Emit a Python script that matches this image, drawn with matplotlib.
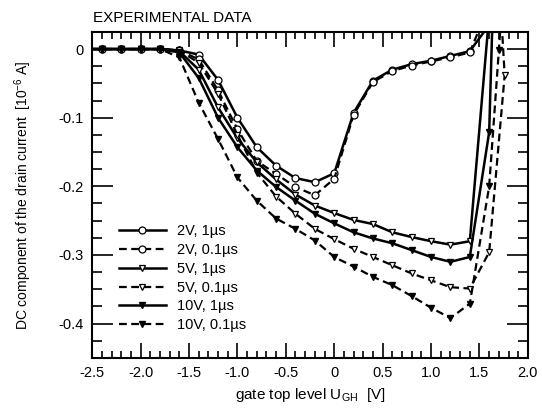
import matplotlib.pyplot as plt
from matplotlib.ticker import MultipleLocator

plt.rcParams['font.family'] = ['Liberation Sans', 'DejaVu Sans']

# gate top level U_GH [V]
x_base = [-2.5, -2.4, -2.2, -2.0, -1.8, -1.6, -1.4, -1.2, -1.0, -0.8, -0.6,
          -0.4, -0.2, 0.0, 0.2, 0.4, 0.6, 0.8, 1.0, 1.2, 1.4]

# DC component of the drain current [1e-6 A]
x_2v_1 = x_base + [1.6]
y_2v_1 = [0, 0, 0, 0, 0, -0.002, -0.008, -0.045, -0.100, -0.143, -0.170,
          -0.188, -0.194, -0.181, -0.093, -0.046, -0.030, -0.022, -0.017, -0.010, -0.003,
          0.035]

x_2v_01 = x_base + [1.5]
y_2v_01 = [0, 0, 0, 0, 0, -0.002, -0.015, -0.060, -0.117, -0.163, -0.182,
           -0.201, -0.213, -0.189, -0.096, -0.048, -0.032, -0.024, -0.018, -0.012, -0.005,
           0.030]

x_5v_1 = x_base + [1.6]
y_5v_1 = [0, 0, 0, 0, 0, -0.003, -0.030, -0.085, -0.130, -0.165, -0.190,
          -0.212, -0.228, -0.239, -0.249, -0.255, -0.267, -0.274, -0.280, -0.285, -0.280,
          0.050]

x_5v_01 = x_base + [1.6, 1.76, 1.72]
y_5v_01 = [0, 0, 0, 0, 0, -0.002, -0.020, -0.065, -0.125, -0.180, -0.215,
           -0.240, -0.262, -0.277, -0.291, -0.303, -0.315, -0.327, -0.337, -0.347, -0.349,
           -0.296, -0.038, 0.060]

x_10v_1 = x_base + [1.6, 1.7]
y_10v_1 = [0, 0, 0, 0, 0, -0.005, -0.042, -0.100, -0.143, -0.177, -0.201,
           -0.221, -0.240, -0.254, -0.267, -0.276, -0.283, -0.293, -0.303, -0.310, -0.303,
           -0.121, 0.360]

x_10v_01 = x_base + [1.6, 1.7, 1.75]
y_10v_01 = [0, 0, 0, 0, 0, -0.012, -0.078, -0.131, -0.187, -0.221, -0.247,
            -0.262, -0.279, -0.303, -0.317, -0.332, -0.344, -0.360, -0.377, -0.392, -0.371,
            -0.200, -0.002, 0.100]

labels = ['2V, 1\u00b5s', '2V, 0.1\u00b5s', '5V, 1\u00b5s',
          '5V, 0.1\u00b5s', '10V, 1\u00b5s', '10V, 0.1\u00b5s']

fig = plt.figure(figsize=(5.42, 4.09), dpi=100)
ax = fig.add_axes([0.170, 0.125, 0.804, 0.797])

solid = dict(color='black', linewidth=1.8, linestyle='-')
dashed = dict(color='black', linewidth=1.6, linestyle=(0, (3.5, 2)))
ms = 5
skip_first = slice(1, None)  # the first point only carries the line to the left spine

ax.plot(x_2v_1, y_2v_1, marker='o', ms=ms, mfc='white', mec='black', mew=0.9,
        markevery=skip_first, label=labels[0], **solid)
ax.plot(x_2v_01, y_2v_01, marker='o', ms=ms, mfc='white', mec='black', mew=0.9,
        markevery=skip_first, label=labels[1], **dashed)
ax.plot(x_5v_1, y_5v_1, marker='v', ms=ms, mfc='white', mec='black', mew=0.9,
        markevery=skip_first, label=labels[2], **solid)
ax.plot(x_5v_01, y_5v_01, marker='v', ms=ms, mfc='white', mec='black', mew=0.9,
        markevery=skip_first, label=labels[3], **dashed)
ax.plot(x_10v_1, y_10v_1, marker='v', ms=ms, mfc='black', mec='black',
        markevery=skip_first, label=labels[4], **solid)
ax.plot(x_10v_01, y_10v_01, marker='v', ms=ms, mfc='black', mec='black',
        markevery=skip_first, label=labels[5], **dashed)

ax.set_xlim(-2.5, 2.0)
ax.set_ylim(-0.45, 0.025)
ax.xaxis.set_minor_locator(MultipleLocator(0.1))
ax.yaxis.set_minor_locator(MultipleLocator(0.025))
ax.set_xticks([-2.5, -2.0, -1.5, -1.0, -0.5, 0, 0.5, 1.0, 1.5, 2.0])
ax.set_xticklabels(['-2.5', '-2.0', '-1.5', '-1.0', '-0.5', '0', '0.5', '1.0', '1.5', '2.0'])
ax.set_yticks([0, -0.1, -0.2, -0.3, -0.4])
ax.set_yticklabels(['0', '-0.1', '-0.2', '-0.3', '-0.4'])

ax.tick_params(axis='both', which='both', direction='in', top=True, right=True,
               labelsize=10.5, width=1.2)
ax.tick_params(axis='x', which='major', length=11, pad=6)
ax.tick_params(axis='x', which='minor', length=5)
ax.tick_params(axis='y', which='major', length=15, pad=6)
ax.tick_params(axis='y', which='minor', length=7)
for s in ax.spines.values():
    s.set_linewidth(1.5)

ax.set_xlabel('gate top level U$_{\\mathregular{GH}}$  [V]', fontsize=11, labelpad=4)
ax.set_ylabel('DC component of the drain current  [10$^{\\mathregular{-6}}$ A]',
              fontsize=10, labelpad=18)
fig.text(0.172, 0.955, 'EXPERIMENTAL DATA', fontsize=11, ha='left', va='center')

ax.legend(loc='upper left', bbox_to_anchor=(0.062, 0.41), frameon=False,
          fontsize=10.5, handlelength=3.2, handletextpad=0.8, labelspacing=0.33,
          borderpad=0, borderaxespad=0, numpoints=1)

fig.savefig('out.png', dpi=100)
